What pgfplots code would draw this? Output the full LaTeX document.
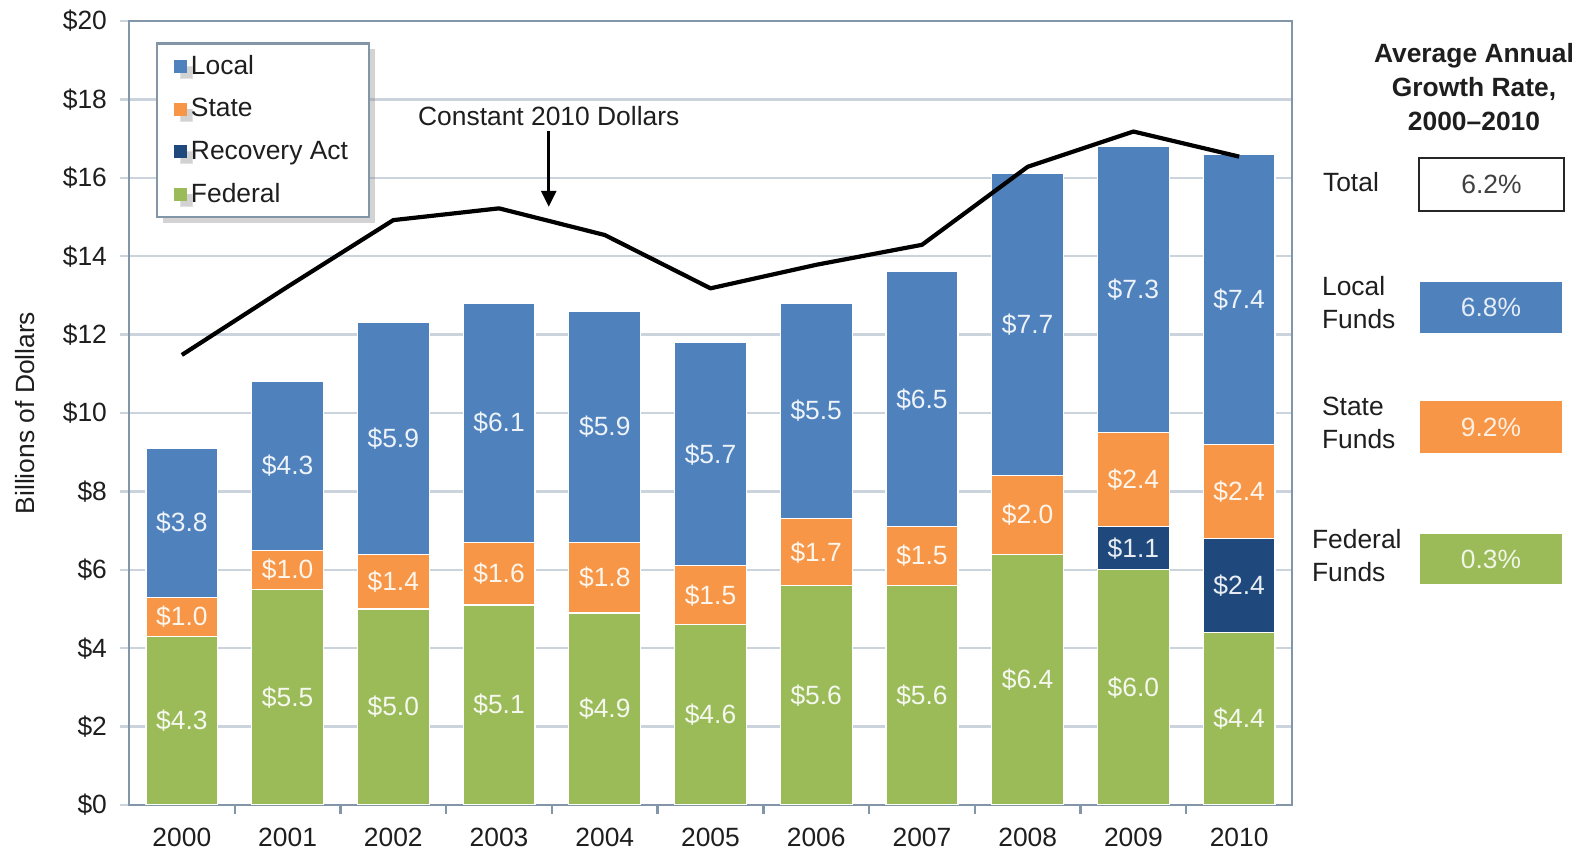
\documentclass[border=0pt]{standalone}
\usepackage{pgfplots}
\pgfplotsset{compat=1.18}
\usepackage{pgfplotstable}
\usepackage{fontspec}
\setmainfont{Liberation Sans}
\usetikzlibrary{shadows,arrows.meta}

\definecolor{localc}{HTML}{4F81BD}
\definecolor{statec}{HTML}{F79646}
\definecolor{recc}{HTML}{1F497D}
\definecolor{fedc}{HTML}{9BBB59}
\definecolor{axisc}{HTML}{8396A8}
\definecolor{gridc}{HTML}{CBD4DC}
\definecolor{txt}{HTML}{1E1E1E}

\pgfplotstableread{
x fed rec state local const
0 4.3 0 1.0 3.8 11.48
1 5.5 0 1.0 4.3 13.22
2 5.0 0 1.4 5.9 14.92
3 5.1 0 1.6 6.1 15.22
4 4.9 0 1.8 5.9 14.54
5 4.6 0 1.5 5.7 13.18
6 5.6 0 1.7 5.5 13.78
7 5.6 0 1.5 6.5 14.29
8 6.4 0 2.0 7.7 16.28
9 6.0 1.1 2.4 7.3 17.18
10 4.4 2.4 2.4 7.4 16.54
}\data

\newcommand\fs{\fontsize{13.2}{16.5}\selectfont}

\pgfplotsset{
  common/.style={
    scale only axis, width=581.5pt, height=392pt,
    at={(64.5pt,24.5pt)}, anchor=south west,
    xmin=-0.5, xmax=10.5, ymin=0, ymax=20, enlargelimits=false,
  },
  seg/.style={
    fill=#1, draw=white, line width=0.6pt,
    nodes near coords={\pgfmathfloatifflags{\pgfplotspointmeta}{0}{}{\$\pgfmathprintnumber[fixed,fixed zerofill,precision=1,assume math mode=true]{\pgfplotspointmeta}}},
    every node near coord/.append style={font=\fs, text=white!90!#1, anchor=center},
  },
}

\begin{document}
\begin{tikzpicture}[x=1pt,y=1pt]
\useasboundingbox (0,0) rectangle (790,427);
\begin{axis}[common,
  ybar stacked, bar width=0.68,
  point meta=explicit,
  axis line style={axisc, line width=1.2pt},
  xtick pos=bottom, ytick pos=left,
  ytick={0,2,...,20},
  yticklabels={\$0,\$2,\$4,\$6,\$8,\$10,\$12,\$14,\$16,\$18,\$20},
  xtick={0.5,1.5,...,9.5},
  xticklabels={},
  extra x ticks={0,...,10},
  extra x tick labels={2000,2001,2002,2003,2004,2005,2006,2007,2008,2009,2010},
  extra x tick style={major tick length=0pt, grid=none},
  tick label style={font=\fs, text=txt},
  yticklabel style={xshift=-3pt},
  xticklabel style={yshift=-8pt},
  ymajorgrids, grid style={gridc, line width=1.2pt},
  tick align=outside, major tick length=4.5pt,
  ytick style={draw=gridc, line width=1.2pt},
  xtick style={draw=axisc, line width=1.2pt},
  ylabel={Billions of Dollars},
  every axis y label/.style={at={(axis description cs:-0.0894,0.5)}, rotate=90, anchor=center, font=\fs, text=txt},
  legend style={at={(0.0232,0.973)}, anchor=north west, draw=axisc, line width=1.2pt, fill=white,
    font=\fs, text=txt, drop shadow={shadow xshift=3pt, shadow yshift=-3pt, opacity=0.35},
    inner xsep=8.5pt, inner ysep=4pt, row sep=6.5pt, cells={anchor=west}},
  legend image code/.code={\fill[#1, draw=none] (0pt,-3.2pt) rectangle (6.4pt,3.2pt);},
  reverse legend,
]
\addplot[seg=fedc] table[x=x,y=fed,meta=fed]\data;
\addlegendentry{Federal}
\addplot[seg=recc] table[x=x,y=rec,meta=rec]\data;
\addlegendentry{Recovery Act}
\addplot[seg=statec] table[x=x,y=state,meta=state]\data;
\addlegendentry{State}
\addplot[seg=localc] table[x=x,y=local,meta=local]\data;
\addlegendentry{Local}
\end{axis}
\begin{axis}[common, hide axis]
\addplot[black, line width=2.1pt, mark=none, line join=round] table[x=x,y=const]\data;
\draw[-{Triangle[length=8pt,width=7.5pt]}, line width=1.5pt] (axis cs:3.47,17.19) -- (axis cs:3.47,15.26);
\node[font=\fs, text=txt] at (axis cs:3.47,17.58) {Constant 2010 Dollars};
\end{axis}
% right panel
\node[font=\bfseries\fontsize{13.2}{17}\selectfont, align=center, text=txt] at (737,383.5) {Average Annual\\Growth Rate,\\2000–2010};
\node[font=\fs, anchor=west, text=txt] at (658,336) {Total};
\draw[black!85, line width=1.3pt, fill=white] (709.5,321.5) rectangle (782,348);
\node[font=\fs, text=black!75] at (745.75,334.75) {6.2\%};
\node[font=\fs, anchor=west, align=left, text=txt] at (657.5,275.75) {Local\\Funds};
\fill[localc] (710,260.5) rectangle (781,286);
\node[font=\fs, text=white!85!localc] at (745.5,273.25) {6.8\%};
\node[font=\fs, anchor=west, align=left, text=txt] at (657.5,215.5) {State\\Funds};
\fill[statec] (710,200.5) rectangle (781,226.5);
\node[font=\fs, text=white!85!statec] at (745.5,213.5) {9.2\%};
\node[font=\fs, anchor=west, align=left, text=txt] at (652.5,149.25) {Federal\\Funds};
\fill[fedc] (710,135) rectangle (781,160);
\node[font=\fs, text=white!85!fedc] at (745.5,147.5) {0.3\%};
\end{tikzpicture}
\end{document}
